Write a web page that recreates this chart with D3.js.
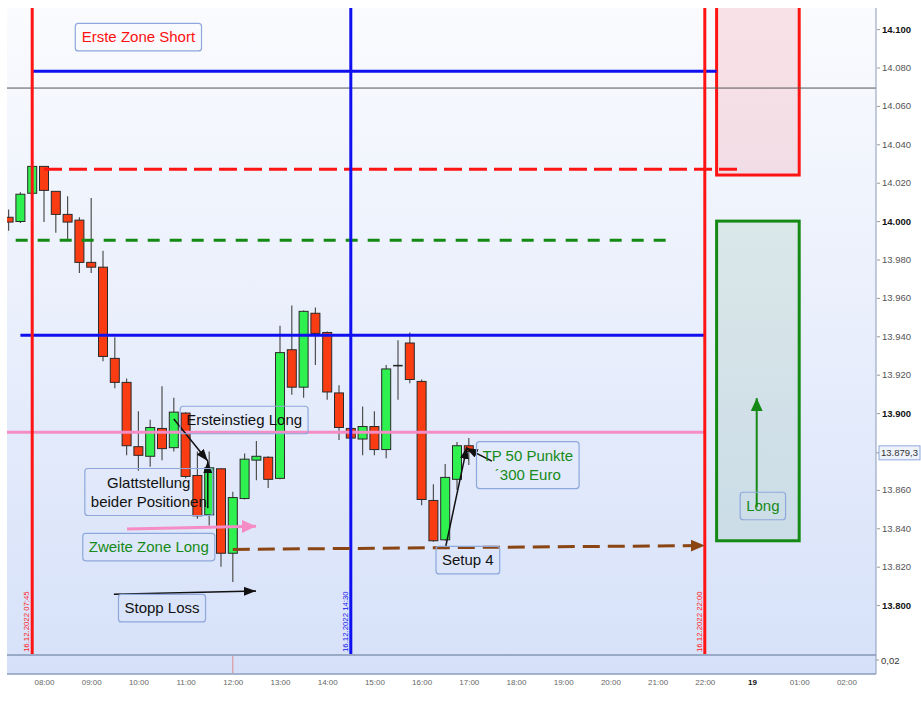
<!DOCTYPE html>
<html><head><meta charset="utf-8">
<script src="https://cdn.jsdelivr.net/npm/d3@7"></script>
<style>body{margin:0;background:#fff}svg{display:block;font-family:"Liberation Sans",Arial,sans-serif}</style>
</head><body><svg id="c" width="921" height="701"></svg>
<script>
// ---- data ----
const times  = ["07:15","07:30","07:45","08:00","08:15","08:30","08:45","09:00","09:15","09:30",
                "09:45","10:00","10:15","10:30","10:45","11:00","11:15","11:30","11:45","12:00",
                "12:15","12:30","12:45","13:00","13:15","13:30","13:45","14:00","14:15","14:30",
                "14:45","15:00","15:15","15:30","15:45","16:00","16:15","16:30","16:45","17:00"];
const opens  = [14002,13999.8,14014.5,14028.5,14015.5,14003.5,14000.5,13978.5,13976,13928.5,
                13916,13882.5,13877.5,13892,13882,13900,13867.5,13847,13871,13827,
                13855.5,13875.5,13877,13866,13933,13913.5,13952,13942,13910.5,13892,
                13886.5,13893,13881,13925,13936.5,13916.5,13854.5,13834,13865.5,13883];
const highs  = [14006,14015,14029,14028.5,14015.5,14013,14002,14012,13984.5,13939.5,
                13918,13901,13896.5,13914,13908,13900.5,13880,13880,13871,13859,
                13879,13885.5,13877.5,13945.5,13956,13953.5,13955,13942.5,13914.5,13892.5,
                13903.5,13901,13925,13938,13942,13917.5,13863,13873.5,13885,13887];
const lows   = [13995,13999,14014,13999.5,13994,13990,13973,13973,13927,13913,
                13878,13870,13872,13875.5,13880,13866,13845,13841.5,13820,13812,
                13855,13865,13861,13865.5,13909.5,13908,13925,13907,13886,13886.5,
                13878,13878,13876.5,13907,13915.5,13852,13833,13833.5,13860,13873];
const closes = [13999.5,14014,14028.5,14016,14003.5,13999.5,13978.5,13976,13929.5,13916,
                13883,13878,13892.5,13881.5,13900.5,13867,13846.5,13871.5,13827,13856,
                13876,13877.5,13865.5,13931.5,13913.5,13953,13941.5,13911,13892.5,13887,
                13893,13881,13923,13925,13917.5,13855,13833.5,13866.5,13883,13880];

const yTicks = [13800,13820,13840,13860,13900,13920,13940,13960,13980,14000,14020,14040,14060,14080,14100];
const xTickSlots  = [8,9,10,11,12,13,14,15,16,17,18,19,20,21,22,23,24,25];
const xTickLabels = ["08:00","09:00","10:00","11:00","12:00","13:00","14:00","15:00","16:00","17:00",
                     "18:00","19:00","20:00","21:00","22:00","19","01:00","02:00"];
const lastPrice = 13879.3;
const lastPriceLabel = "13.879,3";
const subLabel = "0,02";

// horizontal levels: price, start slot, end slot (null = pane edge)
const levels = [
  {kind:"blue",  p:14078,   t0:7.75, t1:22.25},
  {kind:"thin",  p:14069.3, t0:null, t1:null},
  {kind:"redD",  p:14027,   t0:8.0,  t1:22.75},
  {kind:"greenD",p:13990,   t0:7.4,  t1:21.27},
  {kind:"blue",  p:13940.5, t0:7.5,  t1:22.0},
  {kind:"pink",  p:13890,   t0:null, t1:22.0}
];
// vertical markers
const vMarkers = [
  {t:7.75, label:"16.12.2022 07:45", kind:"red"},
  {t:14.5, label:"16.12.2022 14:30", kind:"blue"},
  {t:22.0, label:"16.12.2022 22:00", kind:"red"}
];
// zones
const zones = [
  {kind:"short", t0:22.25, t1:24.0, pTop:14130, pBot:14024},
  {kind:"long",  t0:22.25, t1:24.0, pTop:14000, pBot:13833.5}
];
// arrows (slot, price)
const arrows = [
  {kind:"black", t0:10.75, p0:13896.9, t1:11.47, p1:13875},
  {kind:"black", t0:11.47, p0:13850.5, t1:11.47, p1:13875},
  {kind:"pink",  t0:9.76,  p0:13839.6, t1:12.49, p1:13841.1},
  {kind:"black", t0:9.48,  p0:13805.7, t1:12.49, p1:13807.3},
  {kind:"black", t0:16.5,  p0:13829.2, t1:16.96, p1:13882.3},
  {kind:"black", t0:17.49, p0:13875,   t1:16.94, p1:13881.8},
  {kind:"brown", t0:12.0,  p0:13829,   t1:22.0,  p1:13831},
  {kind:"green", t0:23.1,  p0:13851,   t1:23.1,  p1:13907.8}
];
// text notes (box centre in slot, price)
const notes = [
  {lines:["Erste Zone Short"], t:10.0, p:14095.8, kind:"red"},
  {lines:["Ersteinstieg Long"], t:12.24, p:13896.4, kind:"black"},
  {lines:["Glattstellung","beider Positionen"], t:10.22, p:13858.9, kind:"black"},
  {lines:["Zweite Zone Long"], t:10.22, p:13830.2, kind:"green"},
  {lines:["Stopp Loss"], t:10.5, p:13798.4, kind:"black"},
  {lines:["Setup 4"], t:16.98, p:13823.4, kind:"black"},
  {lines:["TP 50 Punkte","\u00b4300 Euro"], t:18.25, p:13872.9, kind:"green"},
  {lines:["Long"], t:23.23, p:13851.6, kind:"green"}
];

// ---- layout ----
const L=7, R=876, T=8, B=655, SB=674;
const svg = d3.select("#c");
const x = d3.scaleLinear().domain([8,22]).range([44,704.8]);
const y = d3.scaleLinear().domain([13774,14111]).range([B,T]);
const parseT = s => { const [h,m]=s.split(":").map(Number); return h+m/60; };
const deFmt = d3.formatLocale({decimal:",",thousands:".",grouping:[3],currency:["","€"]}).format(",d");

const defs = svg.append("defs");
const g = defs.append("linearGradient").attr("id","bg").attr("x1",0).attr("y1",0).attr("x2",0).attr("y2",1);
g.append("stop").attr("offset","0%").attr("stop-color","#fafbfe");
g.append("stop").attr("offset","100%").attr("stop-color","#d6e1f9");
defs.append("clipPath").attr("id","clipMain").append("rect").attr("x",L).attr("y",T).attr("width",R-L).attr("height",B-T);

const colors = {red:"#ff1414", blue:"#1010ee", green:"#148a14", pink:"#f58cc5", brown:"#8b4513", black:"#111"};
function marker(id, col, w, h){
  defs.append("marker").attr("id",id).attr("markerUnits","userSpaceOnUse")
    .attr("viewBox",`0 0 ${w} ${h}`).attr("refX",w).attr("refY",h/2)
    .attr("markerWidth",w).attr("markerHeight",h).attr("orient","auto")
    .append("path").attr("d",`M0,0L${w},${h/2}L0,${h}Z`).attr("fill",col);
}
marker("m-black", colors.black, 12, 9);
marker("m-pink", colors.pink, 14, 13);
marker("m-brown", colors.brown, 14, 12);
marker("m-green", colors.green, 13, 12);

svg.append("rect").attr("x",L).attr("y",T).attr("width",R-L).attr("height",SB-T).attr("fill","url(#bg)");

const main = svg.append("g").attr("clip-path","url(#clipMain)");

// zones
main.selectAll(".zone").data(zones).join("rect")
  .attr("x",d=>x(d.t0)).attr("y",d=>y(d.pTop)).attr("width",d=>x(d.t1)-x(d.t0)).attr("height",d=>y(d.pBot)-y(d.pTop))
  .attr("fill",d=>d.kind==="short"?"rgba(245,60,80,0.13)":"rgba(20,120,40,0.09)")
  .attr("stroke",d=>d.kind==="short"?colors.red:colors.green).attr("stroke-width",3);

// candles
const candles = times.map((s,i)=>({t:parseT(s),o:opens[i],h:highs[i],l:lows[i],c:closes[i]}));
main.selectAll(".wick").data(candles).join("line")
  .attr("x1",d=>x(d.t)).attr("x2",d=>x(d.t)).attr("y1",d=>y(d.h)).attr("y2",d=>y(d.l))
  .attr("stroke","#505050").attr("stroke-width",1.2);
main.selectAll(".body").data(candles).join("rect")
  .attr("x",d=>x(d.t)-4.5).attr("width",9)
  .attr("y",d=>y(Math.max(d.o,d.c))).attr("height",d=>Math.max(1,Math.abs(y(d.o)-y(d.c))))
  .attr("fill",d=>d.c>d.o?"#2ef04e":(d.c<d.o?"#fa3c12":"#111"))
  .attr("stroke","#2a2a2a").attr("stroke-width",d=>d.c===d.o?0.5:1);

// levels
main.selectAll(".lvl").data(levels).join("line")
  .attr("x1",d=>d.t0==null?L:x(d.t0)).attr("x2",d=>d.t1==null?R:x(d.t1))
  .attr("y1",d=>y(d.p)).attr("y2",d=>y(d.p))
  .attr("stroke",d=>({blue:colors.blue,thin:"#555",redD:colors.red,greenD:colors.green,pink:colors.pink})[d.kind])
  .attr("stroke-width",d=>d.kind==="thin"?1:3)
  .attr("stroke-dasharray",d=>d.kind==="redD"?"18,7":(d.kind==="greenD"?"12,10":null));

// vertical markers
main.selectAll(".vm").data(vMarkers).join("line")
  .attr("x1",d=>x(d.t)).attr("x2",d=>x(d.t)).attr("y1",T).attr("y2",B)
  .attr("stroke",d=>colors[d.kind]).attr("stroke-width",3);
svg.selectAll(".vml").data(vMarkers).join("text")
  .attr("transform",d=>`translate(${x(d.t)-3},${B-3}) rotate(-90)`)
  .attr("font-size",7.8).attr("fill",d=>colors[d.kind]).text(d=>d.label);

// arrows
const ak = {black:["#111",1.5,"m-black",null],pink:[colors.pink,3,"m-pink",null],brown:[colors.brown,3,"m-brown","17,8"],green:[colors.green,2,"m-green",null]};
main.selectAll(".arr").data(arrows).join("line")
  .attr("x1",d=>x(d.t0)).attr("y1",d=>y(d.p0)).attr("x2",d=>x(d.t1)).attr("y2",d=>y(d.p1))
  .attr("stroke",d=>ak[d.kind][0]).attr("stroke-width",d=>ak[d.kind][1])
  .attr("stroke-dasharray",d=>ak[d.kind][3]).attr("marker-end",d=>`url(#${ak[d.kind][2]})`);

// notes
const noteCol = {red:"#ff1010",black:"#111",green:"#178a17"};
notes.forEach(n=>{
  const cx=x(n.t), cy=y(n.p), fs=15, lh=19.5;
  const gg = svg.append("g");
  const rect = gg.append("rect");
  const txt = gg.append("text").attr("font-size",fs).attr("fill",noteCol[n.kind]).attr("text-anchor","middle");
  const h = n.lines.length*lh+8;
  n.lines.forEach((s,i)=>txt.append("tspan").attr("x",cx).attr("y",cy-h/2+4+lh*(i+0.5)+5.3).text(s));
  const w = txt.node().getBBox().width + 12;
  rect.attr("x",cx-w/2).attr("y",cy-h/2).attr("width",w).attr("height",h).attr("rx",3)
    .attr("fill","none").attr("stroke","#8ea8dc").attr("stroke-width",1.2);
});

// sub pane
svg.append("line").attr("x1",L).attr("x2",R).attr("y1",B).attr("y2",B).attr("stroke","#9aa9c6").attr("stroke-width",2);
svg.append("line").attr("x1",L).attr("x2",R).attr("y1",SB).attr("y2",SB).attr("stroke","#8b9bbb").attr("stroke-width",1.5);
svg.append("line").attr("x1",x(12)).attr("x2",x(12)).attr("y1",B+1).attr("y2",SB-1).attr("stroke","#e08a8a").attr("stroke-width",1);
svg.append("line").attr("x1",R).attr("x2",R).attr("y1",T).attr("y2",SB).attr("stroke","#8b9bbb").attr("stroke-width",1);

// right axis
const ya = svg.append("g").attr("transform",`translate(${R+1},0)`)
  .call(d3.axisRight(y).tickValues(yTicks).tickFormat(deFmt).tickSize(3).tickPadding(2));
ya.select(".domain").remove();
ya.selectAll(".tick line").attr("stroke","#999");
ya.selectAll(".tick text").attr("font-family","Liberation Sans, Arial, sans-serif")
  .attr("font-size",9.5).attr("fill",d=>d%100===0?"#111":"#555").attr("font-weight",d=>d%100===0?"bold":"normal");

// last price label
const ly = y(lastPrice);
svg.append("line").attr("x1",R).attr("x2",R+3).attr("y1",ly).attr("y2",ly).attr("stroke","#999");
svg.append("rect").attr("x",R+3).attr("y",ly-7).attr("width",41).attr("height",14).attr("fill","#eef2fb").attr("stroke","#8ea8dc");
svg.append("text").attr("x",R+5).attr("y",ly+3.5).attr("font-size",9.5).attr("fill","#333").text(lastPriceLabel);
svg.append("text").attr("x",R+5).attr("y",B+9).attr("font-size",9.5).attr("fill","#333").text(subLabel);
svg.append("line").attr("x1",R).attr("x2",R+3).attr("y1",B+5).attr("y2",B+5).attr("stroke","#999");

// bottom axis
const xa = svg.append("g").attr("transform",`translate(0,${SB})`)
  .call(d3.axisBottom(x).tickValues(xTickSlots).tickFormat((d,i)=>xTickLabels[i]).tickSize(0).tickPadding(5));
xa.select(".domain").remove();
xa.selectAll(".tick text").attr("font-family","Liberation Sans, Arial, sans-serif")
  .attr("font-size",8).attr("fill",(d,i)=>xTickLabels[i]==="19"?"#111":"#666")
  .attr("font-weight",(d,i)=>xTickLabels[i]==="19"?"bold":"normal");
</script></body></html>
